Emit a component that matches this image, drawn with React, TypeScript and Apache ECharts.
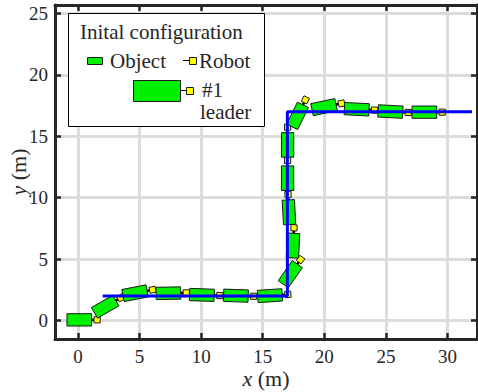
import React, { useEffect, useRef } from "react";
import * as echarts from "echarts";

// Object snapshots along the trajectory: centre (m) and heading (deg)
const poseX = [0.1, 2.2, 4.63, 7.34, 10.06, 12.82, 15.59, 17.24, 17.46, 17.13, 17.02, 17.02, 17.83, 19.98, 22.63, 25.37, 28.13];
const poseY = [0.05, 1.12, 2.22, 2.22, 2.08, 2.02, 2.02, 3.77, 6.1, 8.82, 11.59, 14.3, 16.67, 17.38, 17.21, 17.02, 16.97];
const heading = [0, 30, 11, 1, -2, -2, 4, 55, 87, 93, 90, 90, 64, 12, -3, -3, 0];

// Reference path
const pathX = [2, 17, 17, 32];
const pathY = [2, 2, 17, 17];

// Tick values
const xTicks = [0, 5, 10, 15, 20, 25, 30];
const yTicks = [0, 5, 10, 15, 20, 25];

const X_MIN = -1.87;
const X_MAX = 32.4;
const Y_MIN = -1.51;
const Y_MAX = 25.7;

// Body geometry (m)
const OBJ_L = 2.0;
const OBJ_W = 1.0;
const ROBOT_SIZE = 0.5;
const ROBOT_OFFSET = 1.45;

const GREEN = "#00f000";
const YELLOW = "#ffff00";
const EDGE = "#1a1a1a";
const AXIS = "#262626";
const FONT = "Liberation Serif";

export default function App() {
  const ref = useRef<HTMLDivElement>(null);

  useEffect(() => {
    if (!ref.current) return;
    const chart = echarts.init(ref.current, null, { renderer: "svg" });

    const poses = poseX.map((x, i) => [x, poseY[i], heading[i]]);

    const tickStyle = { inside: true, length: 6, lineStyle: { color: AXIS, width: 2.5 } };
    const lineStyle = { show: true, onZero: false, lineStyle: { color: AXIS, width: 3 } };
    const nameStyle = {
      color: AXIS,
      fontSize: 22,
      fontFamily: FONT,
      lineHeight: 22,
      rich: { i: { fontStyle: "italic", fontSize: 22, lineHeight: 22, fontFamily: FONT, color: AXIS } },
    };

    // Legend box drawn as plain graphics above the plot
    const legendItems: any[] = [
      { type: "rect", shape: { x: 68.5, y: 13.5, width: 196, height: 113 }, style: { fill: "#fff", stroke: "#000", lineWidth: 1 } },
      { type: "text", x: 80, y: 32, style: { text: "Inital configuration", font: `21px ${FONT}`, fill: AXIS, verticalAlign: "middle" } },
      { type: "rect", shape: { x: 87.5, y: 57.5, width: 15, height: 7 }, style: { fill: GREEN, stroke: EDGE, lineWidth: 1 } },
      { type: "text", x: 110, y: 61, style: { text: "Object", font: `21px ${FONT}`, fill: AXIS, verticalAlign: "middle" } },
      { type: "line", shape: { x1: 183, y1: 60.5, x2: 189, y2: 60.5 }, style: { stroke: "#000", lineWidth: 1 } },
      { type: "rect", shape: { x: 189.5, y: 57.5, width: 7, height: 7 }, style: { fill: YELLOW, stroke: EDGE, lineWidth: 1 } },
      { type: "text", x: 199, y: 61, style: { text: "Robot", font: `21px ${FONT}`, fill: AXIS, verticalAlign: "middle" } },
      { type: "rect", shape: { x: 133.5, y: 80.5, width: 47, height: 21 }, style: { fill: GREEN, stroke: EDGE, lineWidth: 1 } },
      { type: "line", shape: { x1: 181, y1: 90.5, x2: 186, y2: 90.5 }, style: { stroke: "#000", lineWidth: 1 } },
      { type: "rect", shape: { x: 186.5, y: 87.5, width: 7, height: 7 }, style: { fill: YELLOW, stroke: EDGE, lineWidth: 1 } },
      { type: "text", x: 202, y: 90, style: { text: "#1", font: `21px ${FONT}`, fill: AXIS, verticalAlign: "middle" } },
      { type: "text", x: 200, y: 112, style: { text: "leader", font: `21px ${FONT}`, fill: AXIS, verticalAlign: "middle" } },
    ].map((el, i) => ({ ...el, z: 100 + i }));

    const option: any = {
      animation: false,
      textStyle: { fontFamily: FONT },
      grid: { left: 55, right: 1, top: 5, bottom: 53, containLabel: false, outerBoundsMode: "none" },
      xAxis: [
        {
          type: "value",
          min: X_MIN,
          max: X_MAX,
          position: "bottom",
          axisLine: lineStyle,
          axisTick: { ...tickStyle, customValues: xTicks },
          axisLabel: { customValues: xTicks, color: AXIS, fontSize: 19, fontFamily: FONT, margin: 8 },
          splitLine: { show: true, lineStyle: { color: "#dcdcdc", width: 3 } },
          name: "{i|x} (m)",
          nameLocation: "middle",
          nameGap: 28,
          nameMoveOverlap: false,
          nameTextStyle: nameStyle,
        },
        {
          type: "value",
          min: X_MIN,
          max: X_MAX,
          position: "top",
          axisLine: lineStyle,
          axisTick: { ...tickStyle, customValues: xTicks },
          axisLabel: { show: false },
          splitLine: { show: false },
        },
      ],
      yAxis: [
        {
          type: "value",
          min: Y_MIN,
          max: Y_MAX,
          position: "left",
          axisLine: lineStyle,
          axisTick: { ...tickStyle, customValues: yTicks },
          axisLabel: { customValues: yTicks, color: AXIS, fontSize: 19, fontFamily: FONT, margin: 7 },
          splitLine: { show: true, lineStyle: { color: "#dcdcdc", width: 3 } },
          name: "{i|y} (m)",
          nameLocation: "middle",
          nameRotate: 90,
          nameGap: 26,
          nameMoveOverlap: false,
          nameTextStyle: nameStyle,
        },
        {
          type: "value",
          min: Y_MIN,
          max: Y_MAX,
          position: "right",
          axisLine: lineStyle,
          axisTick: { ...tickStyle, customValues: yTicks },
          axisLabel: { show: false },
          splitLine: { show: false },
        },
      ],
      series: [
        {
          type: "custom",
          xAxisIndex: 0,
          yAxisIndex: 0,
          data: poses,
          encode: { x: 0, y: 1 },
          z: 2,
          renderItem: (_params: any, api: any) => {
            const cx = api.value(0);
            const cy = api.value(1);
            const th = (api.value(2) * Math.PI) / 180;
            const c = Math.cos(th);
            const s = Math.sin(th);
            const pt = (u: number, v: number) => api.coord([cx + u * c - v * s, cy + u * s + v * c]);
            const hl = OBJ_L / 2;
            const hw = OBJ_W / 2;
            const hr = ROBOT_SIZE / 2;
            const body = [pt(-hl, -hw), pt(hl, -hw), pt(hl, hw), pt(-hl, hw)];
            const robot = [
              pt(ROBOT_OFFSET - hr, -hr),
              pt(ROBOT_OFFSET + hr, -hr),
              pt(ROBOT_OFFSET + hr, hr),
              pt(ROBOT_OFFSET - hr, hr),
            ];
            const a = pt(hl, 0);
            const b = pt(ROBOT_OFFSET - hr, 0);
            return {
              type: "group",
              children: [
                { type: "polygon", shape: { points: body }, style: { fill: GREEN, stroke: EDGE, lineWidth: 1 } },
                { type: "line", shape: { x1: a[0], y1: a[1], x2: b[0], y2: b[1] }, style: { stroke: "#000", lineWidth: 2.5 } },
                { type: "polygon", shape: { points: robot }, style: { fill: YELLOW, stroke: EDGE, lineWidth: 1 } },
              ],
            };
          },
        },
        {
          type: "line",
          xAxisIndex: 0,
          yAxisIndex: 0,
          data: pathX.map((x, i) => [x, pathY[i]]),
          symbol: "none",
          z: 5,
          lineStyle: { color: "#0000ff", width: 3 },
        },
      ],
      graphic: legendItems,
    };

    chart.setOption(option);
    return () => chart.dispose();
  }, []);

  return <div ref={ref} style={{ width: 478, height: 392, position: "absolute", left: 0, top: 0 }} />;
}
